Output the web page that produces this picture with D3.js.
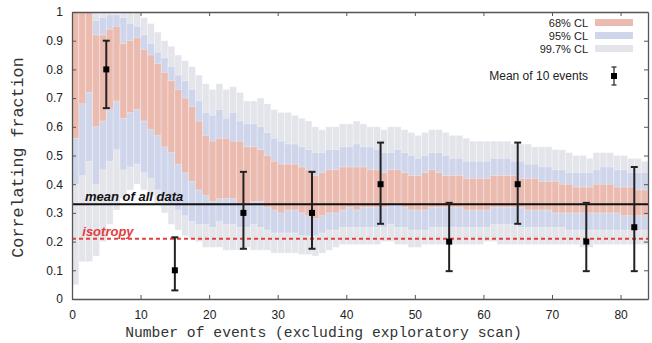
<!DOCTYPE html>
<html>
<head>
<meta charset="utf-8">
<script src="https://cdn.jsdelivr.net/npm/d3@7"></script>
<style>
  body { margin: 0; background: #fff; }
  svg { display: block; }
</style>
</head>
<body>
<div id="chart"></div>
<script>
// number of events (bar index)
const events = [
  1,2,3,4,5,6,7,8,9,10,11,12,13,14,15,16,17,18,19,20,
  21,22,23,24,25,26,27,28,29,30,31,32,33,34,35,36,37,38,39,40,
  41,42,43,44,45,46,47,48,49,50,51,52,53,54,55,56,57,58,59,60,
  61,62,63,64,65,66,67,68,69,70,71,72,73,74,75,76,77,78,79,80,
  81,82,83,84
];

// confidence bands
const hi997 = [
  1,1,1,1,1,1,1,1,1,1,
  0.98,0.96,0.93,0.90,0.88,0.85,0.83,0.81,0.78,0.75,
  0.73,0.75,0.73,0.74,0.72,0.69,0.69,0.70,0.68,0.66,
  0.65,0.65,0.64,0.63,0.62,0.60,0.59,0.60,0.60,0.61,
  0.61,0.62,0.61,0.60,0.60,0.59,0.60,0.60,0.59,0.58,
  0.57,0.58,0.59,0.59,0.58,0.57,0.57,0.56,0.55,0.55,
  0.55,0.55,0.55,0.55,0.54,0.54,0.54,0.53,0.53,0.53,
  0.52,0.52,0.51,0.50,0.50,0.49,0.51,0.51,0.51,0.50,
  0.50,0.49,0.49,0.48
];
const hi95 = [
  1,1,1,0.97,0.98,0.99,0.99,0.98,0.96,0.95,
  0.92,0.89,0.86,0.84,0.81,0.78,0.76,0.73,0.69,0.65,
  0.64,0.66,0.63,0.65,0.62,0.61,0.61,0.60,0.58,0.56,
  0.55,0.54,0.54,0.53,0.52,0.51,0.51,0.52,0.52,0.53,
  0.53,0.54,0.53,0.53,0.52,0.51,0.51,0.52,0.51,0.50,
  0.49,0.50,0.51,0.51,0.50,0.49,0.49,0.48,0.48,0.48,
  0.48,0.49,0.49,0.49,0.48,0.48,0.47,0.47,0.46,0.46,
  0.45,0.45,0.44,0.44,0.44,0.44,0.45,0.46,0.46,0.45,
  0.45,0.44,0.44,0.44
];
const hi68 = [
  1,1,1,0.92,0.92,0.94,0.95,0.89,0.90,0.91,
  0.87,0.85,0.82,0.79,0.76,0.73,0.70,0.67,0.62,0.57,
  0.55,0.56,0.56,0.55,0.55,0.53,0.53,0.52,0.50,0.48,
  0.47,0.47,0.47,0.46,0.45,0.43,0.44,0.45,0.45,0.46,
  0.46,0.46,0.46,0.45,0.45,0.44,0.45,0.45,0.44,0.43,
  0.43,0.44,0.45,0.44,0.43,0.43,0.43,0.42,0.42,0.42,
  0.42,0.43,0.43,0.43,0.43,0.42,0.42,0.42,0.41,0.41,
  0.41,0.40,0.40,0.39,0.39,0.39,0.40,0.40,0.40,0.39,
  0.39,0.39,0.38,0.38
];
const lo68 = [
  0.56,0.68,0.72,0.60,0.62,0.66,0.69,0.63,0.65,0.66,
  0.62,0.59,0.57,0.53,0.51,0.47,0.44,0.41,0.38,0.36,
  0.34,0.35,0.35,0.35,0.33,0.33,0.34,0.34,0.32,0.31,
  0.30,0.31,0.31,0.30,0.29,0.28,0.29,0.30,0.30,0.31,
  0.32,0.31,0.32,0.32,0.32,0.32,0.33,0.33,0.32,0.31,
  0.31,0.31,0.32,0.32,0.32,0.32,0.32,0.31,0.31,0.31,
  0.31,0.32,0.32,0.32,0.32,0.32,0.31,0.31,0.31,0.31,
  0.30,0.30,0.30,0.30,0.30,0.30,0.30,0.30,0.30,0.30,
  0.29,0.29,0.29,0.29
];
const lo95 = [
  0.40,0.43,0.48,0.40,0.45,0.48,0.52,0.45,0.46,0.47,
  0.44,0.42,0.38,0.36,0.33,0.31,0.29,0.27,0.26,0.26,
  0.25,0.27,0.26,0.26,0.25,0.25,0.26,0.25,0.24,0.23,
  0.23,0.23,0.23,0.22,0.22,0.22,0.23,0.24,0.24,0.25,
  0.25,0.25,0.25,0.25,0.25,0.25,0.26,0.25,0.25,0.24,
  0.24,0.24,0.25,0.25,0.25,0.25,0.25,0.25,0.25,0.25,
  0.25,0.26,0.26,0.26,0.26,0.25,0.25,0.25,0.25,0.25,
  0.25,0.25,0.24,0.24,0.24,0.24,0.24,0.24,0.24,0.24,
  0.24,0.24,0.24,0.24
];
const lo997 = [
  0.05,0.13,0.13,0.15,0.20,0.26,0.31,0.35,0.38,0.40,
  0.38,0.36,0.33,0.30,0.26,0.24,0.22,0.21,0.20,0.18,
  0.18,0.18,0.17,0.17,0.17,0.18,0.17,0.17,0.17,0.16,
  0.16,0.16,0.16,0.155,0.155,0.15,0.16,0.17,0.18,0.19,
  0.19,0.19,0.19,0.19,0.19,0.20,0.20,0.19,0.19,0.18,
  0.18,0.19,0.19,0.19,0.19,0.19,0.19,0.19,0.19,0.19,
  0.20,0.20,0.19,0.19,0.19,0.19,0.19,0.19,0.19,0.19,
  0.19,0.19,0.19,0.19,0.18,0.18,0.19,0.19,0.19,0.19,
  0.19,0.19,0.19,0.19
];

// mean of 10 events
const meanX = [5, 15, 25, 35, 45, 55, 65, 75, 82];
const meanY = [0.8, 0.1, 0.3, 0.3, 0.4, 0.2, 0.4, 0.2, 0.25];
const meanLo = [0.665, 0.03, 0.175, 0.175, 0.262, 0.097, 0.262, 0.097, 0.097];
const meanHi = [0.9, 0.215, 0.443, 0.443, 0.545, 0.335, 0.545, 0.335, 0.46];

const meanAll = 0.33;
const isotropy = 0.21;

const xTicks = [0, 10, 20, 30, 40, 50, 60, 70, 80];
const yTicks = [0, 0.1, 0.2, 0.3, 0.4, 0.5, 0.6, 0.7, 0.8, 0.9, 1];

const bandNames = ['68% CL', '95% CL', '99.7% CL'];
const bandColors = ['#ecbbb0', '#cfd5ea', '#e3e5ea'];

const W = 652, H = 343;
const margin = { left: 72, right: 4, top: 12, bottom: 44 };

const svg = d3.select('#chart').append('svg')
  .attr('width', W)
  .attr('height', H);

const x = d3.scaleLinear().domain([0, 84]).range([margin.left, W - margin.right]);
const y = d3.scaleLinear().domain([0, 1]).range([H - margin.bottom, margin.top]);

// bands: widest first
const bands = [
  { lo: lo997, hi: hi997, color: bandColors[2] },
  { lo: lo95, hi: hi95, color: bandColors[1] },
  { lo: lo68, hi: hi68, color: bandColors[0] }
];

bands.forEach(b => {
  svg.append('g')
    .selectAll('rect')
    .data(events)
    .join('rect')
    .attr('x', n => x(n - 1))
    .attr('width', n => x(n) - x(n - 1))
    .attr('y', (n, i) => y(b.hi[i]))
    .attr('height', (n, i) => y(b.lo[i]) - y(b.hi[i]))
    .attr('fill', b.color)
    .attr('stroke', '#fff')
    .attr('stroke-width', 0.6)
    .attr('stroke-opacity', 0.5);
});

// reference lines
svg.append('line')
  .attr('x1', x(0)).attr('x2', x(84))
  .attr('y1', y(meanAll)).attr('y2', y(meanAll))
  .attr('stroke', '#111').attr('stroke-width', 2);

svg.append('line')
  .attr('x1', x(0)).attr('x2', x(84))
  .attr('y1', y(isotropy)).attr('y2', y(isotropy))
  .attr('stroke', '#e2403f').attr('stroke-width', 2)
  .attr('stroke-dasharray', '4,3');

svg.append('text')
  .attr('x', x(1.9)).attr('y', y(meanAll) - 3)
  .attr('font-family', 'Liberation Sans, Arial, sans-serif')
  .attr('font-weight', 'bold').attr('font-style', 'italic')
  .attr('font-size', 13).attr('fill', '#111')
  .text('mean of all data');

svg.append('text')
  .attr('x', x(1.5)).attr('y', y(isotropy) - 3)
  .attr('font-family', 'Liberation Sans, Arial, sans-serif')
  .attr('font-weight', 'bold').attr('font-style', 'italic')
  .attr('font-size', 13).attr('fill', '#e2403f')
  .text('isotropy');

// error bars
const pts = svg.append('g').selectAll('g')
  .data(meanX)
  .join('g');

pts.append('line')
  .attr('x1', d => x(d)).attr('x2', d => x(d))
  .attr('y1', (d, i) => y(meanLo[i])).attr('y2', (d, i) => y(meanHi[i]))
  .attr('stroke', '#222').attr('stroke-width', 2);
pts.append('line')
  .attr('x1', d => x(d) - 3.5).attr('x2', d => x(d) + 3.5)
  .attr('y1', (d, i) => y(meanLo[i])).attr('y2', (d, i) => y(meanLo[i]))
  .attr('stroke', '#222').attr('stroke-width', 2);
pts.append('line')
  .attr('x1', d => x(d) - 3.5).attr('x2', d => x(d) + 3.5)
  .attr('y1', (d, i) => y(meanHi[i])).attr('y2', (d, i) => y(meanHi[i]))
  .attr('stroke', '#222').attr('stroke-width', 2);
pts.append('rect')
  .attr('x', d => x(d) - 3).attr('y', (d, i) => y(meanY[i]) - 3)
  .attr('width', 6).attr('height', 6)
  .attr('fill', '#000');

// axes, gnuplot style: ticks inside on all sides
const tickFont = 'Liberation Sans, Arial, Helvetica, sans-serif';
const fmt = d3.format('~g');

function styleAxis(g) {
  g.select('.domain').attr('stroke', '#555').attr('stroke-width', 1.3);
  g.selectAll('.tick line').attr('stroke', '#555').attr('stroke-width', 1);
  g.selectAll('.tick text').attr('fill', '#222')
    .attr('font-family', tickFont).attr('font-size', 12);
}

svg.append('g')
  .attr('transform', `translate(0,${y(0)})`)
  .call(d3.axisBottom(x).tickValues(xTicks).tickFormat(fmt)
    .tickSizeInner(-4).tickSizeOuter(0).tickPadding(11))
  .call(styleAxis);

svg.append('g')
  .attr('transform', `translate(0,${y(1)})`)
  .call(d3.axisTop(x).tickValues(xTicks).tickFormat('')
    .tickSizeInner(-4).tickSizeOuter(0))
  .call(styleAxis);

svg.append('g')
  .attr('transform', `translate(${x(0)},0)`)
  .call(d3.axisLeft(y).tickValues(yTicks).tickFormat(fmt)
    .tickSizeInner(-4).tickSizeOuter(0).tickPadding(9))
  .call(styleAxis);

svg.append('g')
  .attr('transform', `translate(${x(84)},0)`)
  .call(d3.axisRight(y).tickValues(yTicks).tickFormat('')
    .tickSizeInner(-4).tickSizeOuter(0))
  .call(styleAxis);

// axis titles
svg.append('text')
  .attr('x', 323.5).attr('y', 337)
  .attr('text-anchor', 'middle')
  .attr('font-family', 'Liberation Mono, Courier New, monospace')
  .attr('font-size', 14.7).attr('fill', '#333')
  .text('Number of events (excluding exploratory scan)');

svg.append('text')
  .attr('transform', 'translate(23,157.5) rotate(-90)')
  .attr('text-anchor', 'middle')
  .attr('font-family', 'Liberation Mono, Courier New, monospace')
  .attr('font-size', 16.7).attr('fill', '#333')
  .text('Correlating fraction');

// legend
const legend = svg.append('g');
const legendY = [27, 40, 53];
legend.selectAll('text.band')
  .data(bandNames)
  .join('text')
  .attr('class', 'band')
  .attr('x', 588).attr('y', (d, i) => legendY[i])
  .attr('text-anchor', 'end')
  .attr('font-family', tickFont).attr('font-size', 11).attr('fill', '#222')
  .text(d => d);
legend.selectAll('rect.band')
  .data(bandNames)
  .join('rect')
  .attr('class', 'band')
  .attr('x', 595).attr('y', (d, i) => legendY[i] - 8)
  .attr('width', 38).attr('height', 7)
  .attr('fill', (d, i) => bandColors[i]);

legend.append('text')
  .attr('x', 588).attr('y', 80)
  .attr('text-anchor', 'end')
  .attr('font-family', tickFont).attr('font-size', 12).attr('fill', '#222')
  .text('Mean of 10 events');
legend.append('line')
  .attr('x1', 614).attr('x2', 614).attr('y1', 67).attr('y2', 85)
  .attr('stroke', '#222').attr('stroke-width', 1.2);
legend.append('line')
  .attr('x1', 611.5).attr('x2', 616.5).attr('y1', 67).attr('y2', 67)
  .attr('stroke', '#222').attr('stroke-width', 1.2);
legend.append('line')
  .attr('x1', 611.5).attr('x2', 616.5).attr('y1', 85).attr('y2', 85)
  .attr('stroke', '#222').attr('stroke-width', 1.2);
legend.append('rect')
  .attr('x', 611).attr('y', 73).attr('width', 6).attr('height', 6)
  .attr('fill', '#000');
</script>
</body>
</html>
